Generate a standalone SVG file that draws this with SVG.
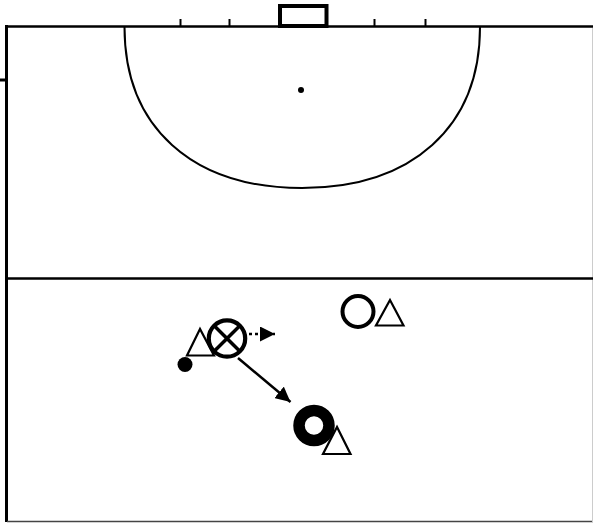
<svg xmlns="http://www.w3.org/2000/svg" width="593" height="523" viewBox="0 0 593 523">
<style>
.ln{stroke:#000;fill:none}
.tri{fill:#fff;stroke:#000;stroke-width:2.2;stroke-linejoin:miter}
</style>
<defs>
<marker id="ah2" viewBox="0 0 10 10" refX="10" refY="5" markerWidth="15" markerHeight="15" markerUnits="userSpaceOnUse" orient="auto">
<path d="M0,0 L10,5 L0,10 Z" fill="#000"/>
</marker>
</defs>
<rect width="593" height="523" fill="#fff"/>
<g id="pitch">
<line class="ln" x1="5" y1="26.5" x2="593" y2="26.5" stroke-width="2.5"/>
<line class="ln" x1="6.5" y1="25" x2="6.5" y2="522" stroke-width="3"/>
<line class="ln" x1="0" y1="80" x2="6" y2="80" stroke-width="3"/>
<line x1="7" y1="521.5" x2="593" y2="521.5" stroke="#444" stroke-width="1.5"/>
<line x1="592.5" y1="28" x2="592.5" y2="522" stroke="#ccc" stroke-width="1"/>
<line class="ln" x1="5" y1="278.5" x2="593" y2="278.5" stroke-width="2.5"/>
<rect x="280" y="6" width="46.5" height="20" class="ln" stroke-width="4"/>
<line class="ln" x1="180.5" y1="19" x2="180.5" y2="27" stroke-width="2"/>
<line class="ln" x1="229.5" y1="19" x2="229.5" y2="27" stroke-width="2"/>
<line class="ln" x1="374.5" y1="19" x2="374.5" y2="27" stroke-width="2"/>
<line class="ln" x1="425.5" y1="19" x2="425.5" y2="27" stroke-width="2"/>
<path class="ln" stroke-width="2" d="M124.5,27 C124.5,127 192,188 302,188 C412,188 480,127 480,27"/>
<circle cx="301" cy="90" r="3" fill="#000"/>
</g>
<g id="connectors">
<line class="ln" x1="238" y1="358" x2="290.5" y2="402" stroke-width="2.5" marker-end="url(#ah2)"/>
<line class="ln" x1="249" y1="334" x2="275" y2="334" stroke-width="2.5" stroke-dasharray="3 3" marker-end="url(#ah2)"/>
</g>
<g id="attacker1">
<polygon class="tri" points="200,329 187,355.5 214,355.5"/>
<circle cx="185" cy="364.5" r="7.5" fill="#000"/>
<circle cx="227" cy="338.5" r="18.2" fill="#fff" stroke="#000" stroke-width="4.2"/>
<line class="ln" x1="214.2" y1="325.7" x2="239.8" y2="351.3" stroke-width="3.5"/>
<line class="ln" x1="239.8" y1="325.7" x2="214.2" y2="351.3" stroke-width="3.5"/>
</g>
<g id="player2">
<circle cx="358" cy="311.5" r="15.5" fill="none" stroke="#000" stroke-width="4"/>
<polygon class="tri" points="390,300 376,325.5 403.5,325.5"/>
</g>
<g id="player3">
<circle cx="314" cy="425.5" r="15" fill="none" stroke="#000" stroke-width="11.5"/>
<polygon class="tri" points="337,427 323,454 350.5,454"/>
</g>
</svg>
